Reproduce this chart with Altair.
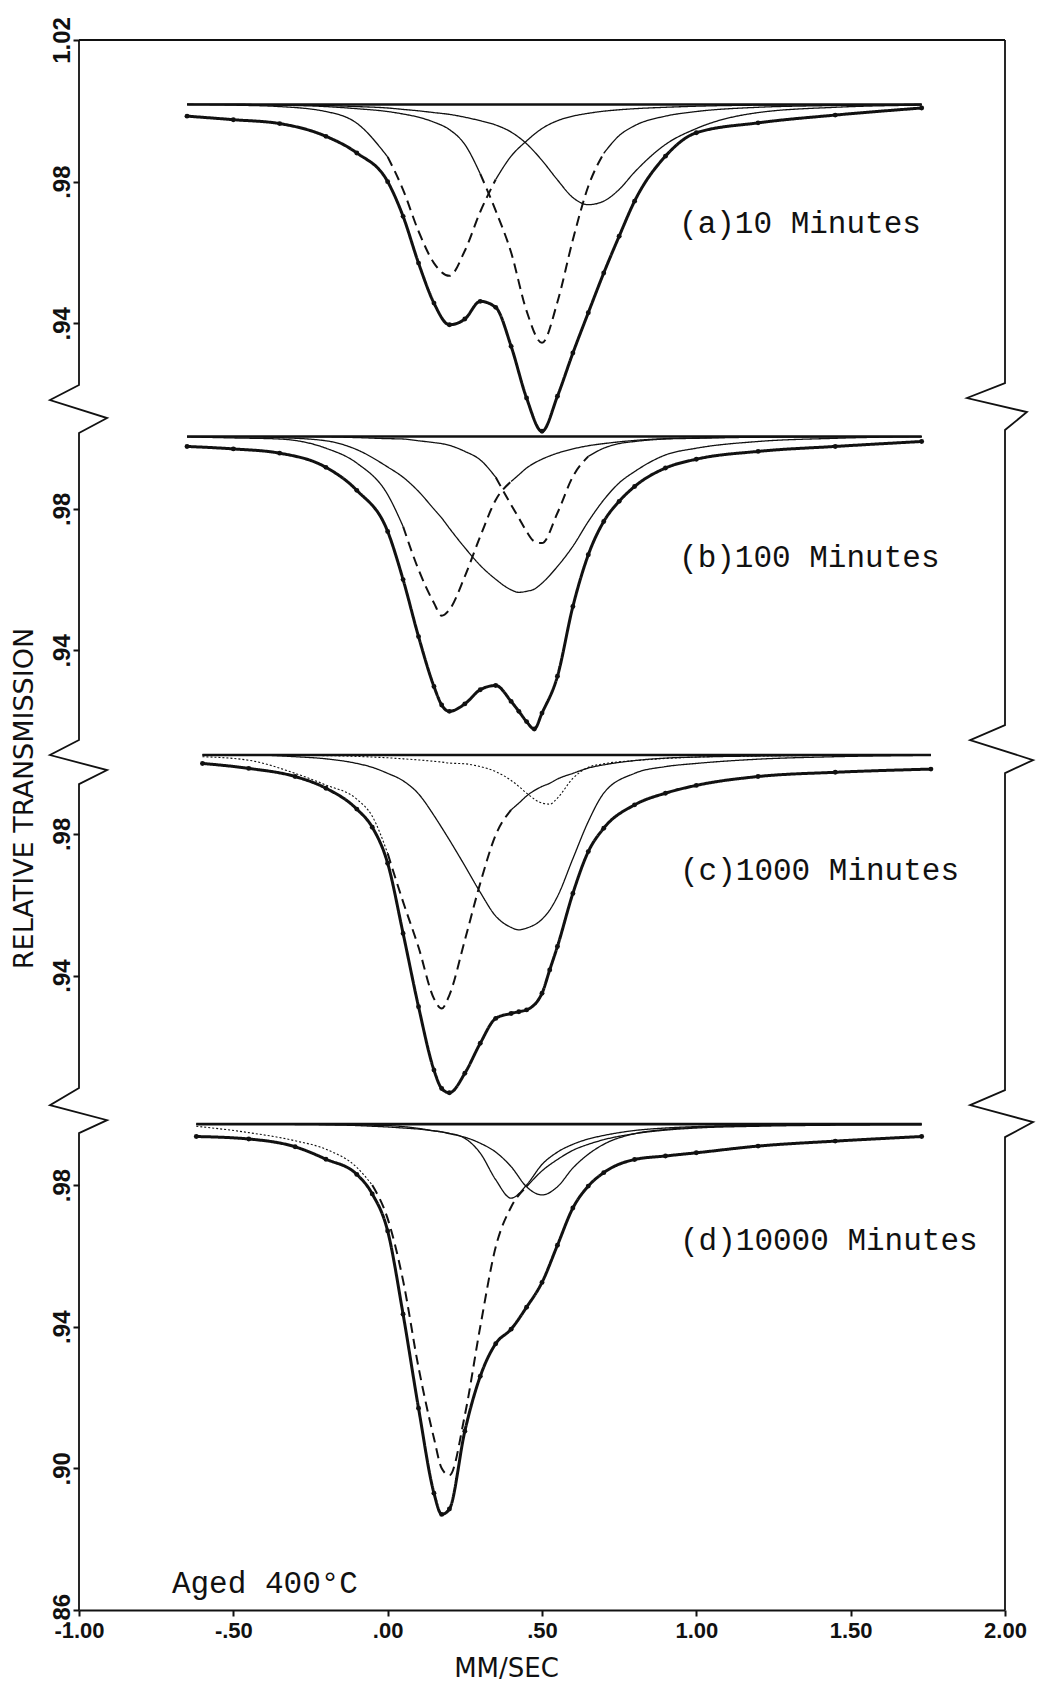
import altair as alt
import pandas as pd

INK = "#111111"

# ---------------- panel (a) 10 minutes ----------------
XA = [-0.65, -0.5, -0.35, -0.2, -0.1, 0.0, 0.05, 0.1, 0.15, 0.2, 0.25, 0.3, 0.35, 0.4,
      0.45, 0.5, 0.55, 0.6, 0.65, 0.7, 0.75, 0.8, 0.9, 1.0, 1.2, 1.45, 1.73]
A_OBS = [0.9985, 0.9975, 0.9964, 0.9928, 0.9881, 0.9800, 0.9702, 0.9570, 0.9457, 0.9396,
         0.9412, 0.9462, 0.9445, 0.9335, 0.9189, 0.9095, 0.9194, 0.9316, 0.9430, 0.9542,
         0.9646, 0.9745, 0.9872, 0.9938, 0.9966, 0.9988, 1.0008]
A_C1 = [1.0018, 1.0016, 1.0012, 0.9998, 0.9965, 0.9870, 0.9777, 0.9660, 0.9570, 0.9534,
        0.9605, 0.9715, 0.9806, 0.9872, 0.9915, 0.9950, 0.9972, 0.9985, 0.9993, 0.9999,
        1.0003, 1.0006, 1.0010, 1.0013, 1.0016, 1.0017, 1.0018]
A_C2 = [1.0018, 1.0018, 1.0016, 1.0012, 1.0006, 0.9998, 0.9991, 0.9982, 0.9968, 0.9947,
        0.9905, 0.9822, 0.9718, 0.9600, 0.9435, 0.9345, 0.9460, 0.9636, 0.9787, 0.9880,
        0.9930, 0.9958, 0.9985, 0.9998, 1.0010, 1.0015, 1.0018]
A_C3 = [1.0018, 1.0018, 1.0017, 1.0015, 1.0012, 1.0008, 1.0004, 1.0000, 0.9995, 0.9990,
        0.9982, 0.9972, 0.9960, 0.9940, 0.9907, 0.9860, 0.9805, 0.9755, 0.9735, 0.9745,
        0.9778, 0.9827, 0.9905, 0.9950, 0.9995, 1.0010, 1.0016]
A_STYLES = [[("solid", -9, 0.0), ("dashed", 0.0, 0.35), ("solid", 0.35, 9)],
            [("solid", -9, 0.3), ("dashed", 0.3, 0.7), ("solid", 0.7, 9)],
            [("solid", -9, 9)]]

# ---------------- panel (b) 100 minutes ----------------
XB = [-0.65, -0.5, -0.35, -0.2, -0.1, 0.0, 0.05, 0.1, 0.15, 0.175, 0.2, 0.25, 0.3, 0.35,
      0.4, 0.425, 0.45, 0.475, 0.5, 0.55, 0.6, 0.65, 0.7, 0.75, 0.8, 0.9, 1.0, 1.2, 1.45, 1.73]
B_OBS = [0.9976, 0.9969, 0.9957, 0.9917, 0.9852, 0.9736, 0.9600, 0.9439, 0.9298, 0.9246,
         0.9228, 0.9249, 0.9289, 0.9301, 0.9256, 0.9228, 0.9199, 0.9178, 0.9223, 0.9327,
         0.9524, 0.9670, 0.9764, 0.9821, 0.9863, 0.9915, 0.9940, 0.9962, 0.9976, 0.9990]
B_C1 = [1.0003, 1.0000, 0.9997, 0.9971, 0.9929, 0.9840, 0.9750, 0.9628, 0.9534, 0.9498,
        0.9515, 0.9609, 0.9722, 0.9825, 0.9877, 0.9896, 0.9915, 0.9929, 0.9940, 0.9957,
        0.9969, 0.9978, 0.9984, 0.9989, 0.9993, 0.9998, 1.0000, 1.0003, 1.0004, 1.0004]
B_C2 = [1.0004, 1.0004, 1.0001, 0.9992, 0.9967, 0.9918, 0.9889, 0.9849, 0.9799, 0.9774,
        0.9745, 0.9690, 0.9640, 0.9601, 0.9571, 0.9564, 0.9567, 0.9573, 0.9590, 0.9637,
        0.9694, 0.9764, 0.9825, 0.9873, 0.9905, 0.9952, 0.9971, 0.9990, 0.9999, 1.0004]
B_C3 = [1.0004, 1.0004, 1.0004, 1.0003, 1.0001, 0.9998, 0.9997, 0.9992, 0.9987, 0.9984,
        0.9979, 0.9962, 0.9938, 0.9889, 0.9811, 0.9774, 0.9736, 0.9708, 0.9703, 0.9788,
        0.9891, 0.9948, 0.9971, 0.9984, 0.9990, 0.9997, 0.9999, 1.0002, 1.0003, 1.0004]
B_STYLES = [[("solid", -9, 0.05), ("dashed", 0.05, 0.4), ("solid", 0.4, 9)],
            [("solid", -9, 9)],
            [("solid", -9, 0.35), ("dashed", 0.35, 0.65), ("solid", 0.65, 9)]]

# ---------------- panel (c) 1000 minutes ----------------
XC = [-0.6, -0.45, -0.3, -0.2, -0.1, -0.05, 0.0, 0.05, 0.1, 0.15, 0.175, 0.2, 0.25, 0.3,
      0.35, 0.4, 0.425, 0.45, 0.5, 0.525, 0.55, 0.6, 0.65, 0.7, 0.8, 0.9, 1.0, 1.2, 1.45, 1.76]
C_OBS = [0.9999, 0.9985, 0.9962, 0.9929, 0.9870, 0.9819, 0.9717, 0.9519, 0.9312, 0.9133,
         0.9081, 0.9069, 0.9124, 0.9209, 0.9279, 0.9293, 0.9298, 0.9303, 0.9350, 0.9416,
         0.9482, 0.9632, 0.9750, 0.9816, 0.9882, 0.9915, 0.9937, 0.9962, 0.9974, 0.9983]
C_C1 = [1.0018, 1.0008, 0.9971, 0.9938, 0.9898, 0.9850, 0.9745, 0.9608, 0.9480, 0.9335,
        0.9307, 0.9345, 0.9500, 0.9661, 0.9797, 0.9868, 0.9887, 0.9907, 0.9934, 0.9943,
        0.9955, 0.9971, 0.9986, 0.9995, 1.0007, 1.0014, 1.0017, 1.0020, 1.0022, 1.0023]
C_C2 = [1.0023, 1.0023, 1.0018, 1.0012, 0.9999, 0.9988, 0.9971, 0.9950, 0.9913, 0.9852,
        0.9818, 0.9783, 0.9710, 0.9635, 0.9568, 0.9536, 0.9529, 0.9534, 0.9559, 0.9585,
        0.9623, 0.9730, 0.9835, 0.9915, 0.9971, 0.9990, 0.9999, 1.0011, 1.0018, 1.0022]
C_C3 = [1.0023, 1.0023, 1.0022, 1.0021, 1.0019, 1.0017, 1.0015, 1.0012, 1.0009, 1.0005,
        1.0003, 1.0000, 0.9998, 0.9990, 0.9976, 0.9951, 0.9934, 0.9915, 0.9887, 0.9884,
        0.9901, 0.9957, 0.9988, 0.9998, 1.0007, 1.0013, 1.0017, 1.0020, 1.0022, 1.0023]
C_STYLES = [[("dotted", -9, 0.0), ("dashed", 0.0, 0.4), ("solid", 0.4, 9)],
            [("solid", -9, 9)],
            [("dotted", -9, 9)]]

# ---------------- panel (d) 10000 minutes ----------------
XD = [-0.62, -0.45, -0.3, -0.2, -0.1, -0.05, 0.0, 0.05, 0.1, 0.15, 0.175, 0.2, 0.25, 0.3,
      0.35, 0.4, 0.45, 0.5, 0.55, 0.6, 0.65, 0.7, 0.8, 0.9, 1.0, 1.2, 1.45, 1.73]
D_OBS = [0.9937, 0.9930, 0.9908, 0.9873, 0.9830, 0.9775, 0.9670, 0.9435, 0.9170, 0.8930,
         0.8870, 0.8885, 0.9105, 0.9260, 0.9352, 0.9393, 0.9455, 0.9525, 0.9630, 0.9735,
         0.9797, 0.9835, 0.9872, 0.9882, 0.9891, 0.9910, 0.9924, 0.9937]
D_C1 = [0.9966, 0.9948, 0.9925, 0.9901, 0.9850, 0.9800, 0.9705, 0.9530, 0.9285, 0.9085,
        0.9000, 0.8980, 0.9150, 0.9400, 0.9625, 0.9738, 0.9795, 0.9840, 0.9872, 0.9898,
        0.9915, 0.9928, 0.9945, 0.9955, 0.9961, 0.9966, 0.9969, 0.9970]
D_C2 = [0.9972, 0.9972, 0.9971, 0.9970, 0.9968, 0.9966, 0.9964, 0.9961, 0.9958, 0.9953,
        0.9950, 0.9946, 0.9932, 0.9890, 0.9815, 0.9763, 0.9800, 0.9858, 0.9893, 0.9915,
        0.9930, 0.9940, 0.9954, 0.9961, 0.9965, 0.9969, 0.9971, 0.9972]
D_C3 = [0.9972, 0.9972, 0.9972, 0.9971, 0.9970, 0.9969, 0.9968, 0.9965, 0.9960, 0.9953,
        0.9950, 0.9945, 0.9935, 0.9918, 0.9893, 0.9852, 0.9795, 0.9772, 0.9795, 0.9848,
        0.9887, 0.9915, 0.9945, 0.9957, 0.9963, 0.9968, 0.9971, 0.9972]
D_STYLES = [[("dotted", -9, -0.05), ("dashed", -0.05, 0.45), ("solid", 0.45, 9)],
            [("solid", -9, 9)],
            [("solid", -9, 9)]]

# ---------------- shared panel settings ----------------
PANEL_BASE = [1.0018, 1.0004, 1.0023, 0.9972]
PANEL_OFFSET = [0.0, -0.09237, -0.18418, -0.28333]
PANEL_TICKS = [[1.02, 0.98, 0.94], [0.98, 0.94], [0.98, 0.94], [0.98, 0.94, 0.90, 0.86]]
PANEL_LABELS = ["(a)10 Minutes", "(b)100 Minutes", "(c)1000 Minutes", "(d)10000 Minutes"]
LABEL_X = [0.944, 0.944, 0.947, 0.947]
LABEL_Y = [0.9655, 0.9635, 0.9670, 0.9616]
NOTE_TEXT = "Aged 400°C"
NOTE_X, NOTE_Y = -0.699, 0.8649  # in panel (d) units

X_TICKS = [-1.0, -0.5, 0.0, 0.5, 1.0, 1.5, 2.0]
X_TICK_LABELS = ["-1.00", "-.50", ".00", ".50", "1.00", "1.50", "2.00"]

# broken-axis frame, in chart units (mm/s, stacked transmission)
LEFT_X = [-1, -1, -1.094, -0.909, -1, -1, -1.094, -0.909, -1, -1, -1.094, -0.909, -1, -1]
LEFT_Y = [1.02, 0.92257, 0.91833, 0.91325, 0.90902, 0.82232, 0.81808, 0.81384, 0.80989,
          0.72404, 0.71924, 0.71500, 0.71133, 0.57667]
RIGHT_X = [2, 2, 1.877, 2.071, 2, 2, 1.887, 2.091, 2, 2, 1.887, 2.091, 2, 2]
RIGHT_Y = [1.02, 0.92313, 0.91890, 0.91494, 0.90986, 0.82655, 0.82232, 0.81667, 0.81300,
           0.72347, 0.71924, 0.71444, 0.71020, 0.57667]
TOP_X = [-1, 2]
TOP_Y = [1.02, 1.02]

Y_MIN, Y_MAX = 0.86 + PANEL_OFFSET[3], 1.02

PANELS = [
    (XA, A_OBS, [A_C1, A_C2, A_C3], A_STYLES),
    (XB, B_OBS, [B_C1, B_C2, B_C3], B_STYLES),
    (XC, C_OBS, [C_C1, C_C2, C_C3], C_STYLES),
    (XD, D_OBS, [D_C1, D_C2, D_C3], D_STYLES),
]

# ---------------- build tables ----------------
comp_rows, obs_rows, base_rows, text_rows = [], [], [], []
for p, (xs, obs, comps, styles) in enumerate(PANELS):
    off = PANEL_OFFSET[p]
    for k, (x, v) in enumerate(zip(xs, obs)):
        obs_rows.append(dict(x=x, y=v + off, seg=f"o{p}", k=k))
    for ci, (vals, sty) in enumerate(zip(comps, styles)):
        for si, (style, lo, hi) in enumerate(sty):
            for k, (x, v) in enumerate(zip(xs, vals)):
                if lo - 1e-9 <= x <= hi + 1e-9:
                    comp_rows.append(dict(x=x, y=v + off, seg=f"c{p}{ci}{si}",
                                          style=style, k=k))
    base_rows.append(dict(x=xs[0], y=PANEL_BASE[p] + off, seg=f"b{p}", k=0))
    base_rows.append(dict(x=xs[-1], y=PANEL_BASE[p] + off, seg=f"b{p}", k=1))
    text_rows.append(dict(x=LABEL_X[p], y=LABEL_Y[p] + off, label=PANEL_LABELS[p]))
text_rows.append(dict(x=NOTE_X, y=NOTE_Y + PANEL_OFFSET[3], label=NOTE_TEXT))

frame_rows = []
for name, fx, fy in [("L", LEFT_X, LEFT_Y), ("R", RIGHT_X, RIGHT_Y), ("T", TOP_X, TOP_Y)]:
    for k, (x, y) in enumerate(zip(fx, fy)):
        frame_rows.append(dict(x=x, y=y, seg=name, k=k))

comp_df = pd.DataFrame(comp_rows)
obs_df = pd.DataFrame(obs_rows)
base_df = pd.DataFrame(base_rows)
text_df = pd.DataFrame(text_rows)
frame_df = pd.DataFrame(frame_rows)

# ---------------- axes ----------------
y_vals, y_labs = [], []
for p, ticks in enumerate(PANEL_TICKS):
    for t in ticks:
        y_vals.append(round(t + PANEL_OFFSET[p], 5))
        s = f"{t:.2f}"
        y_labs.append(s[1:] if s.startswith("0") else s)
y_expr = "''"
for v, lab in reversed(list(zip(y_vals, y_labs))):
    y_expr = f"abs(datum.value - ({v})) < 0.0005 ? '{lab}' : ({y_expr})"
x_expr = "''"
for v, lab in reversed(list(zip(X_TICKS, X_TICK_LABELS))):
    x_expr = f"abs(datum.value - ({v})) < 0.001 ? '{lab}' : ({x_expr})"

x_axis = alt.Axis(values=X_TICKS, labelExpr=x_expr, grid=False, domain=True,
                  domainColor=INK, domainWidth=2, ticks=True, tickColor=INK, tickWidth=2,
                  tickSize=6, labelFont="Liberation Sans", labelFontSize=22,
                  labelFontWeight="bold", labelColor=INK, labelPadding=4, labelFlush=False,
                  labelOverlap=False, title="MM/SEC", titleFont="DejaVu Sans",
                  titleFontSize=26, titleFontWeight="normal", titleColor=INK,
                  titleX=427, titleY=66, titleBaseline="alphabetic", titleAlign="center")
y_axis = alt.Axis(values=y_vals, labelExpr=y_expr, grid=False, domain=False, ticks=True,
                  tickColor=INK, tickWidth=2, tickSize=6, labelAngle=270,
                  labelAlign="center", labelBaseline="alphabetic", labelPadding=4,
                  labelFont="Liberation Sans", labelFontSize=24, labelFontWeight="bold",
                  labelColor=INK, labelFlush=False, labelOverlap=False,
                  title="RELATIVE TRANSMISSION", titleFont="DejaVu Sans", titleFontSize=27,
                  titleFontWeight="normal", titleColor=INK, titleAngle=270, titleX=-47,
                  titleY=758, titleAlign="center", titleBaseline="alphabetic")

X_ENC = alt.X("x:Q", scale=alt.Scale(domain=[-1, 2], nice=False, zero=False), axis=x_axis)
Y_ENC = alt.Y("y:Q", scale=alt.Scale(domain=[Y_MIN, Y_MAX], nice=False, zero=False),
              axis=y_axis)

def curves(df, width, dash):
    return alt.Chart(df).mark_line(interpolate="monotone", color=INK, strokeWidth=width,
                                   strokeDash=dash).encode(
        x=X_ENC, y=Y_ENC, detail="seg:N", order="k:Q")

layers = [
    curves(comp_df[comp_df["style"] == "solid"], 1.3, [1, 0]),
    curves(comp_df[comp_df["style"] == "dashed"], 2.0, [10, 6]),
    curves(comp_df[comp_df["style"] == "dotted"], 1.1, [2, 2]),
    alt.Chart(base_df).mark_line(color=INK, strokeWidth=2.6).encode(
        x=X_ENC, y=Y_ENC, detail="seg:N", order="k:Q"),
    curves(obs_df, 3.0, [1, 0]),
    alt.Chart(obs_df).mark_circle(size=24, color=INK, opacity=1).encode(x=X_ENC, y=Y_ENC),
    alt.Chart(frame_df).mark_line(color=INK, strokeWidth=1.8).encode(
        x=X_ENC, y=Y_ENC, detail="seg:N", order="k:Q"),
    alt.Chart(text_df).mark_text(font="Liberation Mono", fontSize=31, color=INK,
                                 align="left", baseline="alphabetic").encode(
        x=X_ENC, y=Y_ENC, text="label:N"),
]

chart = alt.layer(*layers).properties(
    width=926, height=1570,
    autosize=alt.AutoSizeParams(type="none"),
    padding={"left": 79, "top": 40, "right": 35, "bottom": 71},
    background="white",
).configure_view(stroke=None)

chart.save("out.html", embed_options={"renderer": "svg", "actions": False})
